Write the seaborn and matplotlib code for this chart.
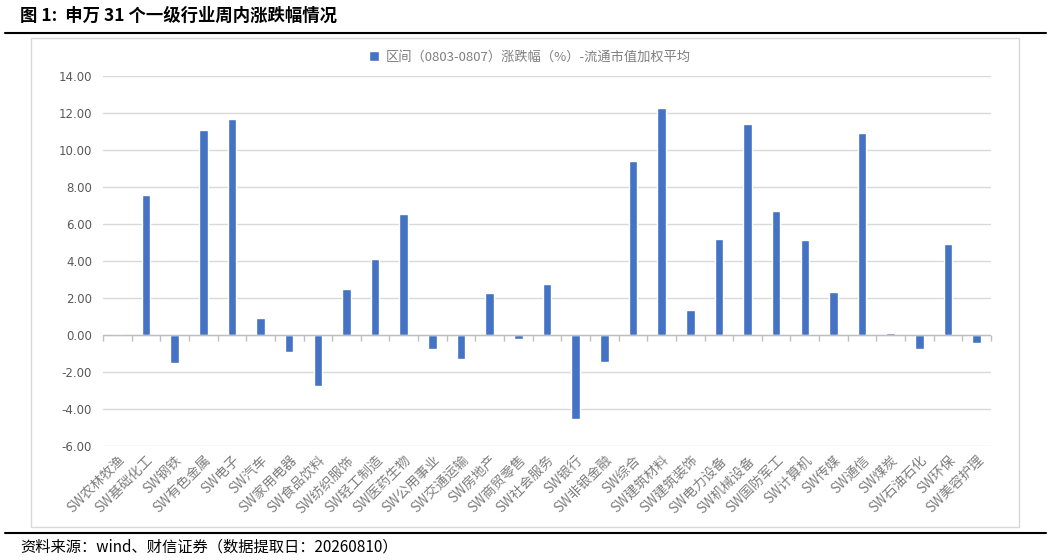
import numpy as np
import pandas as pd
import matplotlib
matplotlib.use("Agg")
import matplotlib.pyplot as plt
from matplotlib.patches import Rectangle
from matplotlib.lines import Line2D
import seaborn as sns

categories = ["SW农林牧渔", "SW基础化工", "SW钢铁", "SW有色金属", "SW电子", "SW汽车",
              "SW家用电器", "SW食品饮料", "SW纺织服饰", "SW轻工制造", "SW医药生物",
              "SW公用事业", "SW交通运输", "SW房地产", "SW商贸零售", "SW社会服务",
              "SW银行", "SW非银金融", "SW综合", "SW建筑材料", "SW建筑装饰",
              "SW电力设备", "SW机械设备", "SW国防军工", "SW计算机", "SW传媒",
              "SW通信", "SW煤炭", "SW石油石化", "SW环保", "SW美容护理"]
values = [0.08, 7.55, -1.50, 11.08, 11.68, 0.92,
          -0.90, -2.75, 2.50, 4.10, 6.55,
          -0.75, -1.30, 2.25, -0.20, 2.75,
          -4.55, -1.45, 9.38, 12.27, 1.35,
          5.18, 11.43, 6.72, 5.16, 2.35,
          10.93, 0.12, -0.75, 4.93, -0.45]
series_name = "区间（0803-0807）涨跌幅（%）-流通市值加权平均"
yticks = [-6, -4, -2, 0, 2, 4, 6, 8, 10, 12, 14]

sns.set_theme(style="white")
plt.rcParams['font.family'] = ['Noto Sans CJK SC', 'DejaVu Sans']
plt.rcParams['axes.unicode_minus'] = False

W, H = 1053, 560
fig = plt.figure(figsize=(W / 100, H / 100), dpi=100)
ax = fig.add_axes([103 / W, 1 - 446 / H, (991 - 103) / W, (446 - 76) / H])

df = pd.DataFrame({"行业": categories, "涨跌幅": values})
sns.barplot(data=df, x="行业", y="涨跌幅", color="#4472C4", width=0.3,
            saturation=1, ax=ax, label=series_name)

ax.set_ylim(-6, 14)
ax.set_xlim(-0.5, len(categories) - 0.5)
ax.set_yticks(yticks)
ax.set_yticklabels([f"{v:.2f}" for v in yticks], color="#595959", fontsize=8.5,
                   family=['DejaVu Sans'])
ax.yaxis.grid(True, color="#D9D9D9", linewidth=1)
ax.set_axisbelow(True)
for s in ax.spines.values():
    s.set_visible(False)
ax.set_xlabel("")
ax.set_ylabel("")
ax.tick_params(axis="y", length=0, pad=8)
ax.tick_params(axis="x", length=0, pad=5)
ax.set_xticks(range(len(categories)))
ax.set_xticklabels(categories, rotation=45, ha="right", rotation_mode="anchor",
                   color="#7F7F7F", fontsize=9.8)

ax.axhline(0, color="#BFBFBF", linewidth=1, zorder=1)
sec = ax.secondary_xaxis(6 / 20)
sec.set_xticks(np.arange(-0.5, len(categories), 1.0))
sec.set_xticklabels([])
sec.tick_params(axis="x", direction="out", length=4, color="#BFBFBF", width=1)
for s in sec.spines.values():
    s.set_visible(False)

ax.legend(loc="center", bbox_to_anchor=(530 / W, 1 - 57 / H),
          bbox_transform=fig.transFigure, frameon=False, fontsize=9.5,
          handlelength=0.8, handleheight=0.8, labelcolor="#7F7F7F",
          handletextpad=0.5)

# chart border
fig.patches.append(Rectangle((31 / W, 1 - 527 / H), (1019 - 31) / W, (527 - 38) / H,
                             transform=fig.transFigure, fill=False,
                             edgecolor="#D9D9D9", linewidth=1))
# title and rules
fig.text(20 / W, 1 - 16 / H, "图 1:  申万 31 个一级行业周内涨跌幅情况",
         fontsize=12.5, fontweight="bold", va="center", ha="left", color="#000000")
fig.add_artist(Line2D([5 / W, 1046 / W], [1 - 33 / H, 1 - 33 / H],
                      transform=fig.transFigure, color="black", linewidth=1.5))
fig.add_artist(Line2D([5 / W, 1046 / W], [1 - 533 / H, 1 - 533 / H],
                      transform=fig.transFigure, color="black", linewidth=1.5))
fig.text(20 / W, 1 - 547 / H, "资料来源：wind、财信证券（数据提取日：20260810）",
         fontsize=11, style="italic", va="center", ha="left", color="#000000")

fig.savefig("out.png", dpi=100)
